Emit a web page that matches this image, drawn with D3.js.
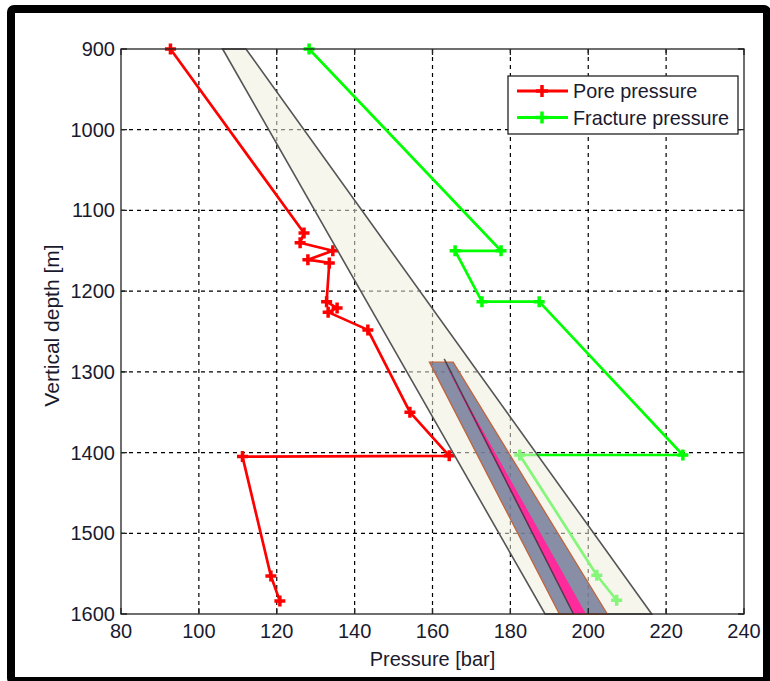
<!DOCTYPE html>
<html>
<head>
<meta charset="utf-8">
<script src="https://cdn.jsdelivr.net/npm/d3@7"></script>
<style>
  body { margin: 0; background: #fff; }
  text { font-family: "Liberation Sans", Arial, sans-serif; fill: #1a1a2e; }
</style>
</head>
<body>
<div id="chart"></div>
<script>
// data
var pressureTicks = [80, 100, 120, 140, 160, 180, 200, 220, 240];
var depthTicks = [900, 1000, 1100, 1200, 1300, 1400, 1500, 1600];

var porePressure = [92.7, 127, 126, 134.4, 128, 133.5, 132.8, 135.5, 133.2, 143.4, 154.2, 164.3, 111.2, 118.5, 120.8];
var poreDepth    = [900, 1128, 1140, 1150, 1161, 1165, 1213, 1221, 1226, 1248, 1350, 1404, 1405, 1553, 1584];

var fracPressure = [128.3, 177.6, 165.8, 172.7, 187.4, 224.3, 182.4, 202.2, 207.3];
var fracDepth    = [900, 1150, 1150, 1213, 1213, 1403, 1403, 1552, 1583];

// outer (beige) window: [pressure, depth] corners
var outerBandP = [106.1, 112.1, 216.3, 188.9];
var outerBandD = [900, 900, 1600, 1600];
// inner (blue) window
var innerBandP = [159.2, 165.3, 204.9, 192.6];
var innerBandD = [1288, 1288, 1600, 1600];
// pink wedge
var pinkBandP = [162.9, 199.4, 196.2];
var pinkBandD = [1287, 1600, 1600];
var centreLineP = [163.0, 196.2];
var centreLineD = [1284, 1600];

var W = 770, H = 681;
var margin = {left: 121, right: 26, top: 49, bottom: 67};

var svg = d3.select("#chart").append("svg")
    .attr("width", W)
    .attr("height", H);

svg.append("rect").attr("width", W).attr("height", H).attr("fill", "#fff");

var x = d3.scaleLinear().domain([80, 240]).range([margin.left, W - margin.right]);
var y = d3.scaleLinear().domain([900, 1600]).range([margin.top, H - margin.bottom]);

var g = svg.append("g");

// grid
g.selectAll(".vgrid").data(pressureTicks.slice(1, -1)).enter().append("line")
    .attr("x1", d => x(d)).attr("x2", d => x(d))
    .attr("y1", y(900)).attr("y2", y(1600))
    .attr("stroke", "#000").attr("stroke-width", 1.2).attr("stroke-dasharray", "4,4");
g.selectAll(".hgrid").data(depthTicks.slice(1, -1)).enter().append("line")
    .attr("y1", d => y(d)).attr("y2", d => y(d))
    .attr("x1", x(80)).attr("x2", x(240))
    .attr("stroke", "#000").attr("stroke-width", 1.2).attr("stroke-dasharray", "4,4");

var line = d3.line().x(d => x(d[0])).y(d => y(d[1]));

function plus(sel, pts, color) {
    var s = 5.5;
    sel.selectAll(null).data(pts).enter().append("path")
        .attr("d", d => "M" + (x(d[0]) - s) + "," + y(d[1]) + "h" + 2 * s +
                        "M" + x(d[0]) + "," + (y(d[1]) - s) + "v" + 2 * s)
        .attr("stroke", color).attr("stroke-width", 3.5).attr("fill", "none");
}

var pore = porePressure.map((p, i) => [p, poreDepth[i]]);
var frac = fracPressure.map((p, i) => [p, fracDepth[i]]);

g.append("path").attr("d", line(pore)).attr("fill", "none")
    .attr("stroke", "#ff0000").attr("stroke-width", 2.7).attr("stroke-linejoin", "round");
plus(g, pore, "#ff0000");
g.append("path").attr("d", line(frac)).attr("fill", "none")
    .attr("stroke", "#00ff00").attr("stroke-width", 2.7).attr("stroke-linejoin", "round");
plus(g, frac, "#00ff00");

// windows
var outer = outerBandP.map((p, i) => [p, outerBandD[i]]);
g.append("path").attr("d", line(outer) + "Z")
    .attr("fill", "#f1eedd").attr("fill-opacity", 0.55)
    .attr("stroke", "#555").attr("stroke-width", 1.6);

var inner = innerBandP.map((p, i) => [p, innerBandD[i]]);
g.append("path").attr("d", line(inner) + "Z")
    .attr("fill", "#6a7495").attr("fill-opacity", 0.8)
    .attr("stroke", "#c0643c").attr("stroke-width", 1.3);

var pink = pinkBandP.map((p, i) => [p, pinkBandD[i]]);
g.append("path").attr("d", line(pink) + "Z")
    .attr("fill", "#ff2a9c").attr("stroke", "none");

g.append("path").attr("d", line(centreLineP.map((p, i) => [p, centreLineD[i]])))
    .attr("stroke", "#333").attr("stroke-width", 1.5).attr("stroke-opacity", 0.8).attr("fill", "none");

// axes box and inward ticks
var tl = 6;
g.append("rect")
    .attr("x", x(80)).attr("y", y(900))
    .attr("width", x(240) - x(80)).attr("height", y(1600) - y(900))
    .attr("fill", "none").attr("stroke", "#222").attr("stroke-width", 1.3);
g.selectAll(".tx").data(pressureTicks).enter().append("path")
    .attr("d", d => "M" + x(d) + "," + y(900) + "v" + tl + "M" + x(d) + "," + y(1600) + "v" + (-tl))
    .attr("stroke", "#222").attr("stroke-width", 1.3);
g.selectAll(".ty").data(depthTicks).enter().append("path")
    .attr("d", d => "M" + x(80) + "," + y(d) + "h" + tl + "M" + x(240) + "," + y(d) + "h" + (-tl))
    .attr("stroke", "#222").attr("stroke-width", 1.3);

// tick labels
g.selectAll(".xl").data(pressureTicks).enter().append("text")
    .attr("x", d => x(d)).attr("y", y(1600) + 24)
    .attr("text-anchor", "middle").attr("font-size", 20)
    .text(d => d);
g.selectAll(".yl").data(depthTicks).enter().append("text")
    .attr("x", x(80) - 6).attr("y", d => y(d) + 7)
    .attr("text-anchor", "end").attr("font-size", 20)
    .text(d => d);

svg.append("text")
    .attr("x", (x(80) + x(240)) / 2).attr("y", 666)
    .attr("text-anchor", "middle").attr("font-size", 20)
    .text("Pressure [bar]");
svg.append("text")
    .attr("transform", "translate(59," + ((y(900) + y(1600)) / 2 - 6) + ") rotate(-90)")
    .attr("text-anchor", "middle").attr("font-size", 21)
    .text("Vertical depth [m]");

// legend
var leg = svg.append("g");
leg.append("rect").attr("x", 508).attr("y", 76).attr("width", 230).attr("height", 58)
    .attr("fill", "#fff").attr("stroke", "#222").attr("stroke-width", 1.3);
var legendItems = [["Pore pressure", "#ff0000"], ["Fracture pressure", "#00ff00"]];
legendItems.forEach(function (it, i) {
    var ly = 91 + i * 26.5;
    leg.append("line").attr("x1", 517).attr("x2", 568).attr("y1", ly).attr("y2", ly)
        .attr("stroke", it[1]).attr("stroke-width", 3);
    leg.append("path").attr("d", "M536," + ly + "h12M542," + (ly - 6) + "v12")
        .attr("stroke", it[1]).attr("stroke-width", 3.5);
    leg.append("text").attr("x", 573).attr("y", ly + 7).attr("font-size", 19.8)
        .text(it[0]);
});

// outer frame
svg.append("rect").attr("x", 11).attr("y", 9).attr("width", 756).attr("height", 672)
    .attr("rx", 3).attr("fill", "none").attr("stroke", "#000").attr("stroke-width", 8);
</script>
</body>
</html>
